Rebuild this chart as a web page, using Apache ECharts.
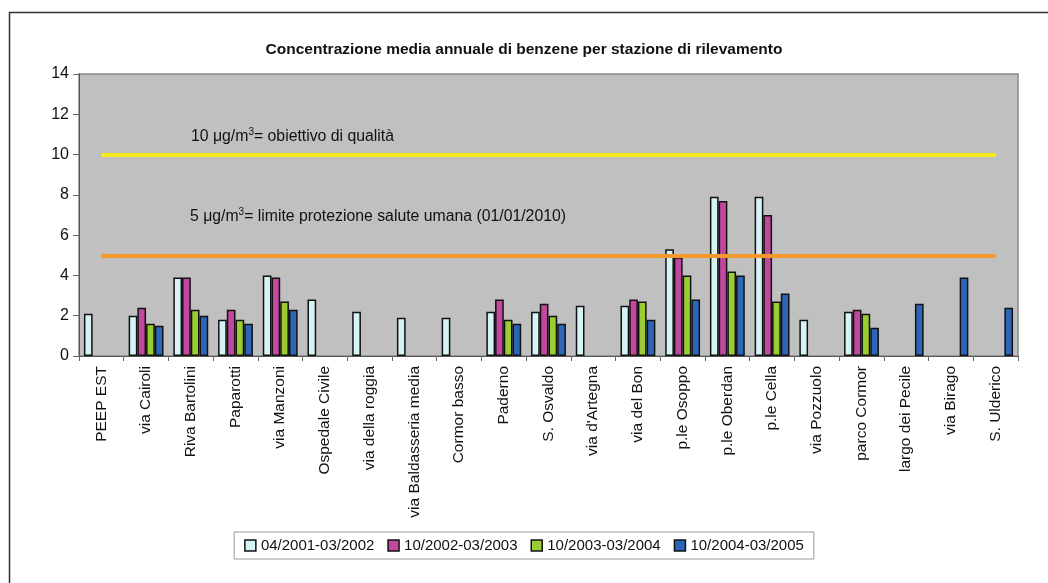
<!DOCTYPE html>
<html>
<head>
<meta charset="utf-8">
<script src="https://cdn.jsdelivr.net/npm/echarts@6/dist/echarts.min.js"></script>
<style>html,body{margin:0;padding:0;background:#fff;}#c{width:1048px;height:583px;}</style>
</head>
<body>
<div id="c"></div>
<script>
const titleText = 'Concentrazione media annuale di benzene per stazione di rilevamento';
const categories = ['PEEP EST','via Cairoli','Riva Bartolini','Paparotti','via Manzoni','Ospedale Civile','via della roggia','via Baldasseria media','Cormor basso','Paderno','S. Osvaldo',"via d'Artegna",'via del Bon','p.le Osoppo','p.le Oberdan','p.le Cella','via Pozzuolo','parco Cormor','largo dei Pecile','via Birago','S. Ulderico'];
const seriesNames = ['04/2001-03/2002','10/2002-03/2003','10/2003-03/2004','10/2004-03/2005'];
const s2001 = [2.1,2.0,3.9,1.8,4.0,2.8,2.2,1.9,1.9,2.2,2.2,2.5,2.5,5.3,7.9,7.9,1.8,2.2,null,null,null];
const s2002 = [null,2.4,3.9,2.3,3.9,null,null,null,null,2.8,2.6,null,2.8,4.9,7.7,7.0,null,2.3,null,null,null];
const s2003 = [null,1.6,2.3,1.8,2.7,null,null,null,null,1.8,2.0,null,2.7,4.0,4.2,2.7,null,2.1,null,null,null];
const s2004 = [null,1.5,2.0,1.6,2.3,null,null,null,null,1.6,1.6,null,1.8,2.8,4.0,3.1,null,1.4,2.6,3.9,2.4];
const yTicks = {min:0, max:14, interval:2};
const qualityTarget = 10;
const healthLimit = 5;

const colors = ['#D6F2F7','#C2479F','#9ACD32','#2D66B9'];
const font = 'Arial, "Liberation Sans", sans-serif';
const data = [s2001,s2002,s2003,s2004];

const chart = echarts.init(document.getElementById('c'));
const series = data.map((d,i)=>({
  name: seriesNames[i],
  type: 'bar',
  data: d,
  barGap: '0%',
  barCategoryGap: '22%',
  itemStyle: {color: colors[i], borderColor: '#111', borderWidth: 1.5},
  emphasis: {disabled: true}
}));
const first = categories[0], last = categories[categories.length-1];
series.push({
  name: 'limits',
  type: 'line',
  data: categories.map(()=>null),
  symbol: 'none',
  silent: true,
  markLine: {
    silent: true,
    symbol: 'none',
    label: {show: false},
    data: [
      [{coord:[first, qualityTarget], lineStyle:{color:'#F7EA1A', width:4, type:'solid'}},{coord:[last, qualityTarget]}],
      [{coord:[first, healthLimit], lineStyle:{color:'#F39A2A', width:4, type:'solid'}},{coord:[last, healthLimit]}]
    ]
  }
});

chart.setOption({
  animation: false,
  backgroundColor: '#fff',
  title: {
    text: titleText, left: 'center', top: 37,
    textStyle: {fontFamily: font, fontSize: 15.5, fontWeight: 'bold', color: '#111'}
  },
  legend: {
    data: seriesNames, left: 'center', top: 532,
    icon: 'rect', itemWidth: 11, itemHeight: 11, itemGap: 13,
    itemStyle: {borderColor: '#111', borderWidth: 1.5},
    borderColor: '#999', borderWidth: 1, padding: [6,10],
    textStyle: {fontFamily: font, fontSize: 15, color: '#111'}
  },
  grid: {left: 79, top: 74, right: 30, bottom: 227, show: true, backgroundColor: '#C0C0C0', borderColor: '#8a8a8a', borderWidth: 1.5},
  xAxis: {
    type: 'category', data: categories, boundaryGap: true,
    axisLine: {lineStyle: {color: '#555', width: 1}},
    axisTick: {show: true, interval: 0, length: 5, lineStyle: {color: '#666'}},
    axisLabel: {interval: 0, rotate: 90, margin: 10, fontFamily: font, fontSize: 15.5, color: '#111'}
  },
  yAxis: {
    type: 'value', min: yTicks.min, max: yTicks.max, interval: yTicks.interval,
    splitLine: {show: false},
    axisLine: {show: true, lineStyle: {color: '#555'}},
    axisTick: {show: true, length: 6, lineStyle: {color: '#666'}},
    axisLabel: {fontFamily: font, fontSize: 16, color: '#111', margin: 10}
  },
  graphic: [
    {type:'rect', left: 7, top: 10, shape:{width: 1100, height: 700}, style:{fill:'none', stroke:'#333', lineWidth:1.5}, silent:true},
    {type:'text', left: 191, top: 127, style:{
      text: '{t|10 μg/m}{s|3}{t|= obiettivo di qualità}',
      rich: {t:{fontFamily:font, fontSize:15.8, fill:'#111', verticalAlign:'bottom'}, s:{fontFamily:font, fontSize:10, fill:'#111', verticalAlign:'top', padding:[0,0,8,0]}}
    }},
    {type:'text', left: 190, top: 207, style:{
      text: '{t|5 μg/m}{s|3}{t|= limite protezione salute umana (01/01/2010)}',
      rich: {t:{fontFamily:font, fontSize:15.8, fill:'#111', verticalAlign:'bottom'}, s:{fontFamily:font, fontSize:10, fill:'#111', verticalAlign:'top', padding:[0,0,8,0]}}
    }}
  ],
  series: series
});
</script>
</body>
</html>
